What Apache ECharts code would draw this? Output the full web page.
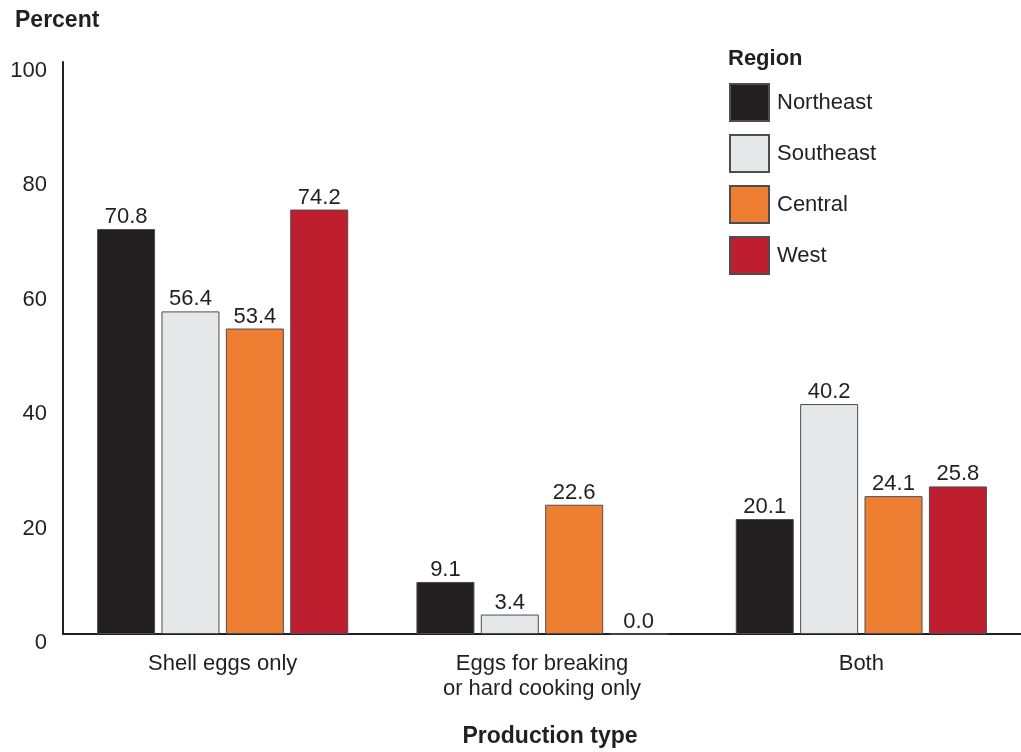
<!DOCTYPE html>
<html>
<head>
<meta charset="utf-8">
<script src="https://cdn.jsdelivr.net/npm/echarts@6/dist/echarts.min.js"></script>
<style>html,body{margin:0;padding:0;background:#fff}#c{width:1021px;height:752px}</style>
</head>
<body>
<div id="c"></div>
<script>
const categories = ['Shell eggs only', 'Eggs for breaking\nor hard cooking only', 'Both'];
const regions = ['Northeast', 'Southeast', 'Central', 'West'];
const northeast = [70.8, 9.1, 20.1];
const southeast = [56.4, 3.4, 40.2];
const central = [53.4, 22.6, 24.1];
const west = [74.2, 0.0, 25.8];
const yTicks = [0, 20, 40, 60, 80, 100];

const colors = ['#231f20', '#e6e7e8', '#ee7f32', '#be1e2d'];
const seriesData = [northeast, southeast, central, west];
const font = 'Liberation Sans, Arial, sans-serif';

const chart = echarts.init(document.getElementById('c'));
chart.setOption({
  animation: false,
  textStyle: { fontFamily: font },
  title: [
    { text: 'Percent', left: 10, top: 4, textStyle: { fontSize: 23, fontWeight: 'bold', color: '#231f20', fontFamily: font } },
    { text: 'Region', left: 723, top: 43, textStyle: { fontSize: 22, fontWeight: 'bold', color: '#231f20', fontFamily: font } },
    { text: 'Production type', left: 545, textAlign: 'center', top: 720, textStyle: { fontSize: 23, fontWeight: 'bold', color: '#231f20', fontFamily: font } }
  ],
  legend: {
    orient: 'vertical',
    left: 724,
    top: 78,
    itemWidth: 39,
    itemHeight: 37,
    itemGap: 12,
    icon: 'rect',
    data: regions,
    textStyle: { fontSize: 22, color: '#231f20', fontFamily: font, padding: [0, 0, 0, 3] }
  },
  grid: { left: 63, right: 0, top: 62, bottom: 118, containLabel: false },
  xAxis: {
    type: 'category',
    data: categories,
    axisLine: { lineStyle: { color: '#231f20', width: 2 } },
    axisTick: { show: false },
    axisLabel: { fontSize: 22, color: '#231f20', lineHeight: 25, margin: 17, interval: 0 }
  },
  yAxis: {
    type: 'value',
    min: 0, max: 100, interval: 20,
    splitLine: { show: false },
    axisTick: { show: false },
    axisLine: { show: true, lineStyle: { color: '#231f20', width: 2 } },
    axisLabel: { fontSize: 22, color: '#231f20', margin: 16, verticalAlign: 'top', padding: [-2, 0, 0, 0],
      formatter: v => yTicks.includes(v) ? String(v) : '' }
  },
  series: regions.map((name, i) => ({
    name,
    type: 'bar',
    data: seriesData[i],
    barWidth: 58,
    barGap: '11%',
    itemStyle: { color: colors[i], borderColor: '#4d4d4f', borderWidth: 1 },
    label: {
      show: true, position: 'top', distance: 1,
      fontSize: 22, color: '#231f20', fontFamily: font,
      formatter: p => p.value.toFixed(1)
    }
  }))
});
</script>
</body>
</html>
